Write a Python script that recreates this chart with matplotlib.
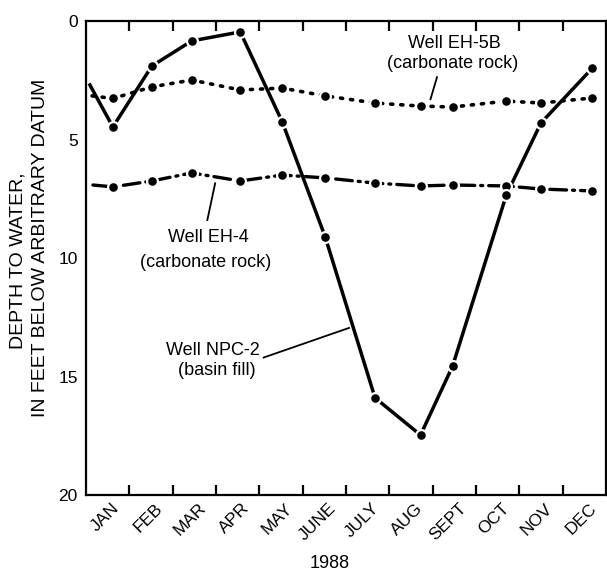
import matplotlib
matplotlib.use("Agg")
import matplotlib.pyplot as plt
import matplotlib.transforms as mtransforms
from matplotlib.ticker import FixedLocator, NullFormatter, FixedFormatter

plt.rcParams['font.family'] = ['Liberation Sans', 'DejaVu Sans']

months = ["JAN", "FEB", "MAR", "APR", "MAY", "JUNE", "JULY", "AUG",
          "SEPT", "OCT", "NOV", "DEC"]
year_label = "1988"
ylabel_1 = "DEPTH TO WATER,"
ylabel_2 = "IN FEET BELOW ARBITRARY DATUM"

# sample times (in months since Jan 1, 1988)
sample_t = [0.62, 1.52, 2.44, 3.56, 4.53, 5.52, 6.67, 7.72, 8.46, 9.70, 10.50, 11.68]

# Well NPC-2 (basin fill); first value is the line start before the January reading
npc2_start = (0.09, 2.7)
npc2_depth = [4.47, 1.90, 0.84, 0.46, 4.26, 9.11, 15.9, 17.47, 14.56, 7.34, 4.30, 2.00]

# Well EH-5B (carbonate rock)
eh5b_start = (0.14, 3.16)
eh5b_depth = [3.27, 2.78, 2.49, 2.91, 2.83, 3.16, 3.46, 3.59, 3.63, 3.38, 3.46, 3.25]

# Well EH-4 (carbonate rock)
eh4_start = (0.16, 6.92)
eh4_depth = [7.00, 6.75, 6.41, 6.75, 6.50, 6.62, 6.84, 6.96, 6.92, 6.96, 7.09, 7.17]

fig = plt.figure(figsize=(6.07, 5.77), dpi=100)
ax = fig.add_axes([86/607, 82/577, 520/607, 474/577])

mk = dict(marker='o', markersize=7.8, markerfacecolor='black',
          markeredgecolor='white', markeredgewidth=1.6, color='black')

def series(start, vals):
    xs = [start[0]] + sample_t
    ys = [start[1]] + vals
    return xs, ys

for start, vals, ls, lw in [
    (eh5b_start, eh5b_depth, (0, (0.6, 2.2)), 2.6),
    (eh4_start, eh4_depth, (0, (5, 1.8, 0.6, 1.8)), 2.4),
    (npc2_start, npc2_depth, '-', 2.5),
]:
    xs, ys = series(start, vals)
    ax.plot(xs, ys, color='black', lw=lw, ls=ls, dash_capstyle='round', zorder=2)
    ax.plot(sample_t, vals, ls='none', zorder=3, **mk)

ax.set_xlim(0, 12)
ax.set_ylim(20, 0)

ax.xaxis.set_major_locator(FixedLocator(list(range(1, 12))))
ax.xaxis.set_major_formatter(NullFormatter())
ax.xaxis.set_minor_locator(FixedLocator([i + 0.5 for i in range(12)]))
ax.xaxis.set_minor_formatter(FixedFormatter(months))
ax.tick_params(axis='x', which='major', direction='in', length=7, width=1.6,
               top=True, bottom=True)
ax.tick_params(axis='x', which='minor', length=0, pad=4, labelsize=12.5)
offset = mtransforms.ScaledTranslation(3/72, 0, fig.dpi_scale_trans)
for lbl in ax.xaxis.get_minorticklabels():
    lbl.set_rotation(45)
    lbl.set_ha('right')
    lbl.set_va('top')
    lbl.set_rotation_mode('anchor')
    lbl.set_transform(lbl.get_transform() + offset)

ax.set_yticks([0, 5, 10, 15, 20])
ax.tick_params(axis='y', direction='in', length=7, width=1.6, left=True,
               right=True, labelsize=12.5, pad=6)
for t in ax.yaxis.get_major_ticks():
    if t.get_loc() in (0, 20):
        t.tick1line.set_visible(False)
        t.tick2line.set_visible(False)

for s in ax.spines.values():
    s.set_linewidth(1.6)

fig.text(18/607, 1 - 261/577, ylabel_1, rotation=90, fontsize=14,
         ha='center', va='center')
fig.text(41/607, 1 - 248/577, ylabel_2, rotation=90, fontsize=14,
         ha='center', va='center')
fig.text(330/607, 1 - 563/577, year_label, fontsize=13, ha='center', va='center')

ann = dict(fontsize=13, ha='center', va='center')
ax.text(8.5, 0.95, "Well EH-5B", **ann)
ax.text(8.45, 1.78, "(carbonate rock)", **ann)
ax.plot([8.1, 7.95], [2.37, 3.3], color='black', lw=1.3)

ax.text(2.82, 9.15, "Well EH-4", **ann)
ax.text(2.75, 10.17, "(carbonate rock)", **ann)
ax.plot([2.98, 2.8], [6.85, 8.4], color='black', lw=1.3)

ax.text(2.93, 13.9, "Well NPC-2", **ann)
ax.text(3.02, 14.73, "(basin fill)", **ann)
ax.plot([4.1, 6.07], [14.2, 12.95], color='black', lw=1.3)

fig.savefig("out.png", dpi=100)
